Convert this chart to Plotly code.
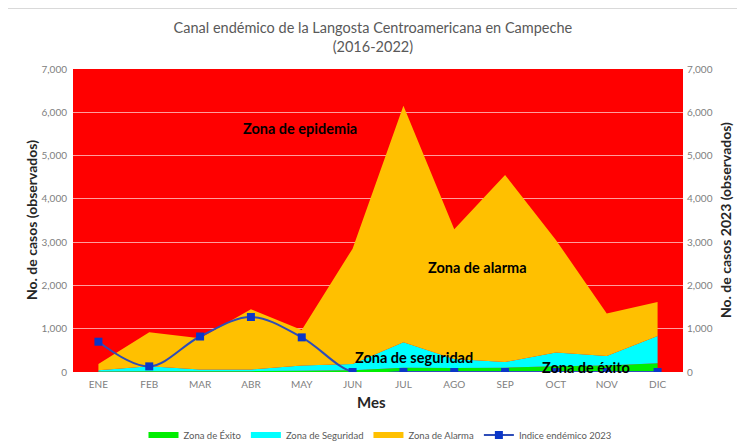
import plotly.graph_objects as go

meses = ["ENE", "FEB", "MAR", "ABR", "MAY", "JUN", "JUL", "AGO", "SEP", "OCT", "NOV", "DIC"]
zona_exito = [10, 20, 20, 20, 30, 40, 100, 90, 100, 130, 150, 200]
zona_seguridad = [30, 110, 40, 40, 120, 145, 590, 210, 130, 320, 220, 630]
zona_alarma = [145, 790, 720, 1390, 820, 2665, 5460, 3000, 4320, 2600, 980, 790]
indice_2023 = [700, 130, 820, 1270, 800, 0, 0, 0, 0, 0, 0, 0]
y_ticks = [0, 1000, 2000, 3000, 4000, 5000, 6000, 7000]

FONT = "Lato, 'Open Sans', sans-serif"
GRAY = "#595959"

# page offset (body margin) compensation
OFF = 8
FW, FH = 745 - OFF, 448 - OFF
# plot area in page pixels: x 73..683, y 69..372
L, R, T, B = 73 - OFF, 683 - OFF, 69 - OFF, 372 - OFF
W, H = R - L, B - T
def px(x):
    return (x - OFF - L) / W
def py(y):
    return (B - (y - OFF)) / H

fig = go.Figure()
fig.add_trace(go.Scatter(x=meses, y=zona_exito, name="Zona de Éxito", stackgroup="a",
                         mode="none", fillcolor="#00EE00", line=dict(width=0)))
fig.add_trace(go.Scatter(x=meses, y=zona_seguridad, name="Zona de Seguridad", stackgroup="a",
                         mode="none", fillcolor="#00FFFF", line=dict(width=0)))
fig.add_trace(go.Scatter(x=meses, y=zona_alarma, name="Zona de Alarma", stackgroup="a",
                         mode="none", fillcolor="#FFC000", line=dict(width=0)))
fig.add_trace(go.Scatter(x=meses, y=indice_2023, name="Indice endémico 2023", yaxis="y2",
                         mode="lines+markers", line=dict(color="#2E4DB8", width=2, shape="spline", smoothing=1),
                         marker=dict(symbol="square", size=8, color="#0A36C8")))

tick_font = dict(family=FONT, size=10, color="#808080")
fig.update_layout(
    width=FW, height=FH,
    margin=dict(l=L, r=FW - R, t=T, b=FH - B, autoexpand=False),
    paper_bgcolor="white", plot_bgcolor="#FF0000",
    font=dict(family=FONT),
    title=dict(text="Canal endémico de la Langosta Centroamericana en Campeche<br>(2016-2022)",
               x=px(375), xanchor="center", y=1 - (33 - OFF) / FH, yanchor="top",
               font=dict(family=FONT, size=14.5, color=GRAY)),
    xaxis=dict(type="category", range=[-0.5, 11.5], showgrid=False, tickfont=tick_font,
               ticks="", showline=False, automargin=False, ticklabelstandoff=5),
    yaxis=dict(range=[0, 7000], tickvals=y_ticks, tickformat=",", tickfont=tick_font,
               showgrid=True, gridcolor="rgba(255,210,210,0.75)", gridwidth=1, zeroline=False,
               automargin=False, ticks="", ticklen=0, ticklabelstandoff=5),
    yaxis2=dict(range=[0, 7000], tickvals=y_ticks, tickformat=",", tickfont=tick_font,
                overlaying="y", side="right", showgrid=False, zeroline=False, automargin=False,
                ticklabelstandoff=3),
    legend=dict(orientation="h", x=px(380), xanchor="center", y=py(435), yanchor="middle",
                font=dict(family=FONT, size=9.5, color=GRAY), traceorder="normal"),
    showlegend=True,
)

# axis titles
fig.add_annotation(x=px(31), y=py(220), xref="paper", yref="paper", text="<b>No. de casos (observados)</b>",
                   textangle=-90, showarrow=False, xanchor="center", yanchor="middle",
                   font=dict(family=FONT, size=14, color="#262626"))
fig.add_annotation(x=px(725), y=py(220), xref="paper", yref="paper", text="<b>No. de casos 2023 (observados)</b>",
                   textangle=-90, showarrow=False, xanchor="center", yanchor="middle",
                   font=dict(family=FONT, size=14, color="#262626"))
fig.add_annotation(x=px(371), y=py(402), xref="paper", yref="paper", text="<b>Mes</b>",
                   showarrow=False, xanchor="center", yanchor="middle",
                   font=dict(family=FONT, size=15, color="#262626"))

ann_font = dict(family=FONT, size=14.5, color="black")
for txt, xx, yy in [("<b>Zona de epidemia</b>", 3.97, 5635),
                    ("<b>Zona de alarma</b>", 7.45, 2425),
                    ("<b>Zona de seguridad</b>", 6.21, 346),
                    ("<b>Zona de éxito</b>", 9.6, 100)]:
    fig.add_annotation(x=xx, y=yy, text=txt, showarrow=False, font=ann_font, xref="x", yref="y",
                       xanchor="center", yanchor="middle")

fig.add_shape(type="line", xref="paper", yref="paper", x0=px(8), x1=px(745), y0=py(8.5), y1=py(8.5),
              line=dict(color="#D9D9D9", width=1))

fig.write_html("out.html")
